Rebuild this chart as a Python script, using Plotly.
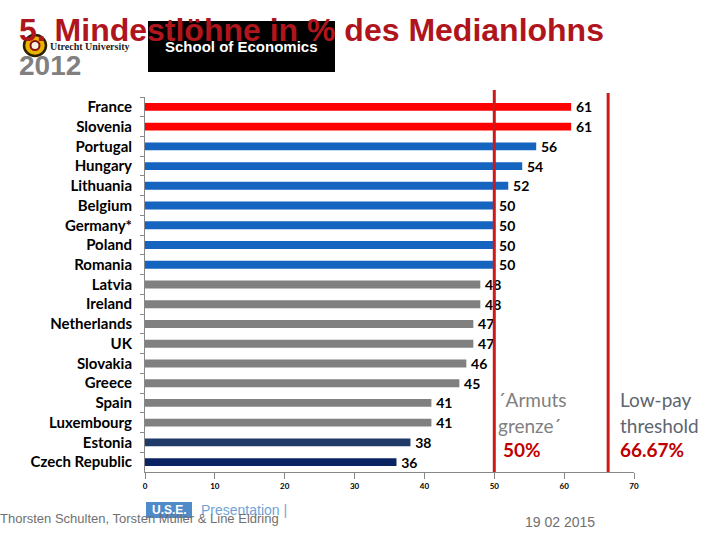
import plotly.graph_objects as go

countries = ["France", "Slovenia", "Portugal", "Hungary", "Lithuania", "Belgium",
             "Germany*", "Poland", "Romania", "Latvia", "Ireland", "Netherlands",
             "UK", "Slovakia", "Greece", "Spain", "Luxembourg", "Estonia", "Czech Republic"]
values = [61, 61, 56, 54, 52, 50, 50, 50, 50, 48, 48, 47, 47, 46, 45, 41, 41, 38, 36]
groups = ["top", "top", "mid", "mid", "mid", "mid", "mid", "mid", "mid",
          "low", "low", "low", "low", "low", "low", "low", "low", "est", "cz"]
x_ticks = [0, 10, 20, 30, 40, 50, 60, 70]
thresholds = [50, 66.3]

group_colors = {"top": "#FF0000", "mid": "#1464C0", "low": "#808080",
                "est": "#1F3A68", "cz": "#0A2463"}

W, H = 720, 540
L, R, T, B = 145, 634, 97, 472


def px(x):
    return (x - L) / (R - L)


def py(y):
    return (B - y) / (B - T)


CAL = "Lato, 'DejaVu Sans Condensed', sans-serif"

fig = go.Figure()
fig.add_trace(go.Bar(
    y=countries, x=values, orientation="h",
    marker=dict(color=[group_colors[g] for g in groups], line=dict(width=0)),
    text=[f"\u2009{v}" for v in values], textposition="outside", constraintext="none",
    textfont=dict(family=CAL, size=14, color="#000000", weight="bold"),
    cliponaxis=False, hoverinfo="skip",
))

shapes = []
for t in thresholds:
    shapes.append(dict(type="line", xref="x", yref="paper", x0=t, x1=t,
                       y0=0, y1=py(90 if t == 50 else 93),
                       line=dict(color="#CC1A1A", width=3), layer="above"))
# logo box
shapes.append(dict(type="rect", xref="paper", yref="paper", x0=px(148), x1=px(335),
                   y0=py(72), y1=py(21), fillcolor="#000000", line=dict(width=0), layer="below"))
# sun emblem
shapes.append(dict(type="circle", xref="paper", yref="paper", x0=px(24), x1=px(46),
                   y0=py(56), y1=py(35), fillcolor="#E8B400", line=dict(color="#2A2000", width=2.5), layer="above"))
shapes.append(dict(type="circle", xref="paper", yref="paper", x0=px(30.5), x1=px(39.5),
                   y0=py(50), y1=py(41), fillcolor="#F5F0E0", line=dict(color="#8A1010", width=2), layer="above"))
# U.S.E. box
shapes.append(dict(type="rect", xref="paper", yref="paper", x0=px(146), x1=px(192),
                   y0=py(518), y1=py(502), fillcolor="#4F8BC9", line=dict(width=0), layer="below"))

ann = []


def add(text, x, y, size, color, family="Liberation Sans, Arial, sans-serif", bold=False,
        xanchor="left", yanchor="middle"):
    ann.append(dict(text=f"<b>{text}</b>" if bold else text, x=px(x), y=py(y), xref="paper",
                    yref="paper", showarrow=False, xanchor=xanchor, yanchor=yanchor,
                    font=dict(family=family, size=size, color=color)))


add("Utrecht University", 48, 46, 10, "#222222", family="'Liberation Serif', serif", bold=True)
add("School of Economics", 241, 46, 15, "#FFFFFF", bold=True, xanchor="center")
add("5. Mindestlöhne in % des Medianlohns", 17, 30, 32, "#B0141C", bold=True)
add("2012", 17, 65, 28, "#808080", bold=True)

add("´Armuts", 496, 399, 19, "#7F7F7F", family=CAL)
add("grenze´", 496, 425, 19, "#7F7F7F", family=CAL)
add("50%", 501, 449, 19, "#C00000", family=CAL, bold=True)
add("Low-pay", 618, 399, 19, "#5E6570", family=CAL)
add("threshold", 618, 425, 19, "#5E6570", family=CAL)
add("66.67%", 618, 449, 19, "#C00000", family=CAL, bold=True)

add("U.S.E.", 169, 510, 12, "#FFFFFF", bold=True, xanchor="center")
add("Presentation |", 199, 510, 14, "#6FA3D6")
add("Thorsten Schulten, Torsten Müller &amp; Line Eldring", -2, 518, 13, "#707070")
add("19 02 2015", 560, 522, 14, "#707070", xanchor="center")

fig.update_layout(
    width=W, height=H,
    margin=dict(l=L, r=W - R, t=T, b=H - B, pad=0),
    paper_bgcolor="white", plot_bgcolor="white",
    bargap=0.6, showlegend=False,
    shapes=shapes, annotations=ann,
    xaxis=dict(range=[0, 70], tickvals=x_ticks, ticks="outside", ticklen=6,
               tickcolor="#888888", showline=True, linecolor="#888888", linewidth=1,
               showgrid=False, zeroline=False,
               tickfont=dict(family=CAL, size=8, color="#000000", weight="bold")),
    yaxis=dict(autorange="reversed", type="category", tickson="boundaries",
               ticks="outside", ticklen=4, tickcolor="#888888",
               showline=True, linecolor="#888888", linewidth=1, showgrid=False,
               ticklabelstandoff=9,
               tickfont=dict(family=CAL, size=15, color="#000000", weight="bold")),
)

fig.write_html("out.html", config={"displayModeBar": False},
               post_script="document.body.style.margin='0';")
